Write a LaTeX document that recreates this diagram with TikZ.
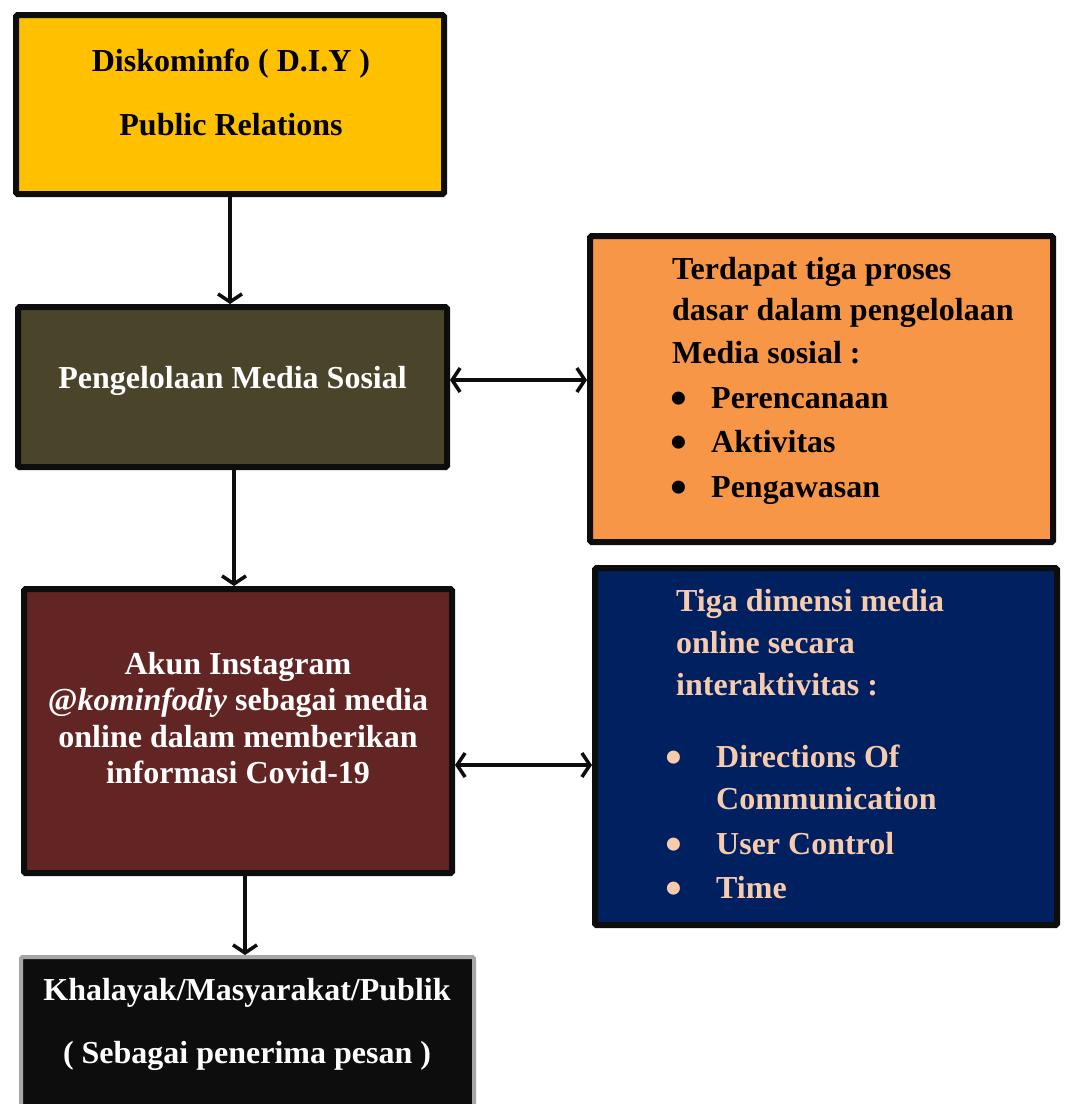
\documentclass[tikz,border=0pt]{standalone}
\usepackage{fontspec}
\setmainfont{Liberation Serif}
\usetikzlibrary{arrows.meta,calc,shadows}
\definecolor{cyellow}{HTML}{FFC000}
\definecolor{colive}{HTML}{4A452A}
\definecolor{corange}{HTML}{F79646}
\definecolor{cmaroon}{HTML}{632523}
\definecolor{cnavy}{HTML}{002060}
\definecolor{cpeach}{HTML}{F8CBAD}
\definecolor{cblk}{HTML}{0D0D0D}
\definecolor{cgreyb}{HTML}{A6A6A6}
\begin{document}
\begin{tikzpicture}[x=1pt,y=-1pt,
  box/.style={draw=cblk, line width=6pt, rounded corners=1.5pt, inner sep=0pt,
    drop shadow={opacity=0.25, shadow xshift=2pt, shadow yshift=-2pt}},
  txt/.style={font=\fontsize{32}{38}\selectfont\bfseries, inner sep=0pt},
  dot/.style={font=\fontsize{48}{48}\selectfont\bfseries, inner sep=0pt, anchor=base},
  arr/.style={line width=3.5pt, draw=cblk, -{Straight Barb[length=8pt,width=24pt,line width=3.5pt]}},
  darr/.style={line width=3.5pt, draw=cblk, {Straight Barb[length=8pt,width=24pt,line width=3.5pt]}-{Straight Barb[length=8pt,width=24pt,line width=3.5pt]}}]
\useasboundingbox (0,0) rectangle (1067,1104);
\fill[white] (0,0) rectangle (1067,1104);

% boxes
\node[box, fill=cyellow, minimum width=428pt, minimum height=179pt] (b1) at (230,104.5) {};
\node[box, fill=colive, minimum width=429pt, minimum height=160pt] (b2) at (232.5,387) {};
\node[box, fill=corange, minimum width=463pt, minimum height=306pt] (b3) at (821.5,389) {};
\node[box, fill=cmaroon, minimum width=428pt, minimum height=284pt] (b4) at (238,731) {};
\node[box, fill=cnavy, minimum width=462pt, minimum height=357pt] (b5) at (826,746.5) {};
\node[box, fill=cblk, draw=cgreyb, line width=4pt, minimum width=453pt, minimum height=170pt] (b6) at (247.5,1042) {};

% box 1 text
\node[txt, anchor=base] (t1a) at (231,71) {Diskominfo ( D.I.Y )};
\node[txt, anchor=base] (t1b) at (231,135) {Public Relations};

% box 2 text
\node[txt, anchor=base, text=white] (t2) at (232.5,388) {Pengelolaan Media Sosial};

% box 3 text
\node[txt, anchor=base west] (t3a) at (672,279) {Terdapat tiga proses};
\node[txt, anchor=base west] (t3b) at (672,320) {dasar dalam pengelolaan};
\node[txt, anchor=base west] (t3c) at (672,363) {Media sosial :};
\node[dot] (d3a) at (679,414) {•};
\node[txt, anchor=base west] (t3d) at (711,408) {Perencanaan};
\node[dot] (d3b) at (679,458) {•};
\node[txt, anchor=base west] (t3e) at (711,452) {Aktivitas};
\node[dot] (d3c) at (679,503) {•};
\node[txt, anchor=base west] (t3f) at (711,497) {Pengawasan};

% box 4 text
\node[txt, anchor=base, text=white] (t4a) at (238,674) {Akun Instagram};
\node[txt, anchor=base, text=white] (t4b) at (238,710) {@\textit{kominfodiy} sebagai media};
\node[txt, anchor=base, text=white] (t4c) at (238,747) {online dalam memberikan};
\node[txt, anchor=base, text=white] (t4d) at (238,783) {informasi Covid-19};

% box 5 text
\node[txt, anchor=base west, text=cpeach] (t5a) at (676,611) {Tiga dimensi media};
\node[txt, anchor=base west, text=cpeach] (t5b) at (676,653) {online secara};
\node[txt, anchor=base west, text=cpeach] (t5c) at (676,695) {interaktivitas :};
\node[dot, text=cpeach] (d5a) at (674,773) {•};
\node[txt, anchor=base west, text=cpeach] (t5d) at (716,767) {Directions Of};
\node[txt, anchor=base west, text=cpeach] (t5e) at (716,809) {Communication};
\node[dot, text=cpeach] (d5b) at (674,860) {•};
\node[txt, anchor=base west, text=cpeach] (t5f) at (716,854) {User Control};
\node[dot, text=cpeach] (d5c) at (674,904) {•};
\node[txt, anchor=base west, text=cpeach] (t5g) at (716,898) {Time};

% box 6 text
\node[txt, anchor=base, text=white] (t6a) at (247,1000) {Khalayak/Masyarakat/Publik};
\node[txt, anchor=base, text=white] (t6b) at (247,1063) {( Sebagai penerima pesan )};

% connectors
\draw[arr] (b1.south) -- (b1.south |- b2.north);
\draw[arr] ($(b2.south)+(1.5,0)$) coordinate (v2) -- (v2 |- b4.north);
\coordinate (v3) at ($(b6.north)+(-2.5,0)$);
\draw[arr] (v3 |- b4.south) -- (v3);
\coordinate (h1) at ($(b2.east)+(0,-7)$);
\draw[darr] (h1) -- (h1 -| b3.west);
\coordinate (h2) at ($(b4.east)+(0,34)$);
\draw[darr] (h2) -- (h2 -| b5.west);
\end{tikzpicture}
\end{document}
